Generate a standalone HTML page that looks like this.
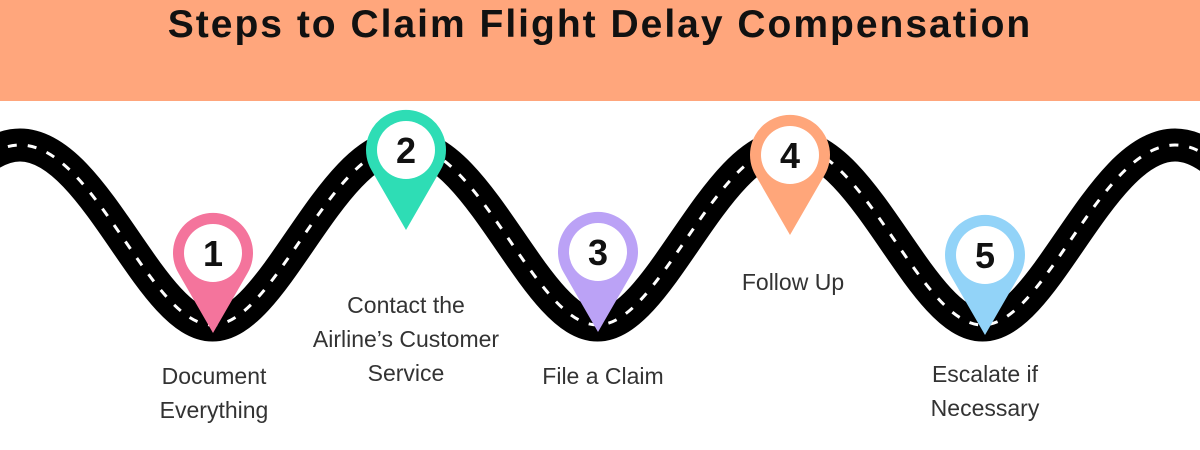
<!DOCTYPE html>
<html><head><meta charset="utf-8"><style>
html,body{margin:0;padding:0;background:#fff;}
body{width:1200px;height:450px;overflow:hidden;position:relative;font-family:"Liberation Sans",sans-serif;}
.hdr{position:absolute;left:0;top:0;width:1200px;height:101px;background:#FFA67C;}
.title{position:absolute;left:0;width:1200px;top:3px;text-align:center;font-weight:bold;font-size:39px;letter-spacing:2px;color:#111;}
.lbl{position:absolute;text-align:center;font-size:23px;line-height:34px;color:#333;width:300px;}
</style></head><body>
<div class="hdr"></div>
<div class="title">Steps to Claim Flight Delay Compensation</div>
<svg width="1200" height="450" style="position:absolute;left:0;top:0">
<defs>
<path id="road" d="M -172.5 325 C -110 325 -55 145 20 145 C 95 145 150 325 212.5 325 C 275 325 330 145 405 145 C 480 145 535 325 597.5 325 C 660 325 715 145 790 145 C 865 145 920 325 982.5 325 C 1045 325 1100 145 1175 145 C 1250 145 1305 325 1367.5 325"/>
<path id="pin" d="M0 80 L-34.6 20 A40 40 0 1 1 34.6 20 Z"/>
</defs>
<use href="#road" fill="none" stroke="#000" stroke-width="33"/>
<use href="#road" fill="none" stroke="#fff" stroke-width="3" stroke-dasharray="9 11"/>
<g font-family="Liberation Sans, sans-serif" font-weight="bold" font-size="36" text-anchor="middle" fill="#111">
<g transform="translate(213,253)"><use href="#pin" fill="#F4749C"/><circle r="29" fill="#fff"/><text y="13">1</text></g>
<g transform="translate(406,150)"><use href="#pin" fill="#2EDDB5"/><circle r="29" fill="#fff"/><text y="13">2</text></g>
<g transform="translate(598,252)"><use href="#pin" fill="#BBA2F6"/><circle r="29" fill="#fff"/><text y="13">3</text></g>
<g transform="translate(790,155)"><use href="#pin" fill="#FFA67A"/><circle r="29" fill="#fff"/><text y="13">4</text></g>
<g transform="translate(985,255)"><use href="#pin" fill="#92D3F8"/><circle r="29" fill="#fff"/><text y="13">5</text></g>
</g>
</svg>
<div class="lbl" style="left:64px;top:359px">Document<br>Everything</div>
<div class="lbl" style="left:256px;top:288px">Contact the<br>Airline’s Customer<br>Service</div>
<div class="lbl" style="left:453px;top:359px">File a Claim</div>
<div class="lbl" style="left:643px;top:265px">Follow Up</div>
<div class="lbl" style="left:835px;top:357px">Escalate if<br>Necessary</div>
</body></html>
